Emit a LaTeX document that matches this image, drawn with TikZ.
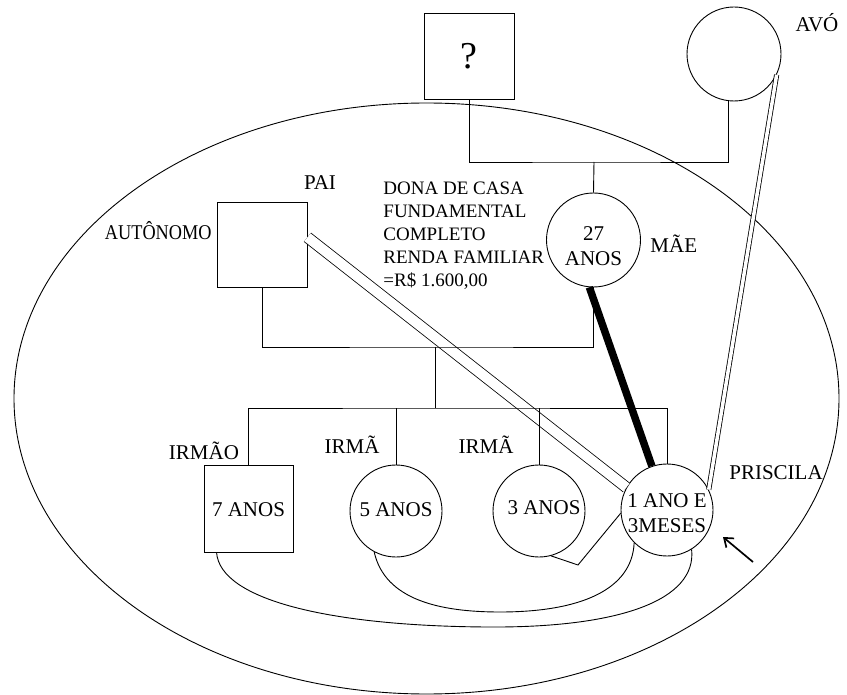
\documentclass[tikz,border=0pt]{standalone}
\usepackage{fontspec}
\setmainfont{Liberation Serif}
\usetikzlibrary{arrows.meta,calc}

\begin{document}
\begin{tikzpicture}[x=1pt,y=-1pt,line width=0.9pt,
  lbl/.style={font=\fontsize{21}{25}\selectfont, inner sep=0pt, anchor=base},
  txt/.style={font=\fontsize{21}{25}\selectfont, inner sep=0pt, align=center},
  info/.style={font=\fontsize{19}{23}\selectfont, inner sep=0pt, align=left},
  male/.style={draw, rectangle, minimum width=90pt, minimum height=86pt, inner sep=0pt},
  female/.style={draw, circle, minimum size=94pt, inner sep=0pt},
  kid/.style={draw, circle, minimum size=92pt, inner sep=0pt},
  tie/.style={double, double distance=10pt, line width=0.8pt},
  closetie/.style={double, double distance=3.5pt, line width=0.8pt},
  strong/.style={line width=7.5pt},
  pointer/.style={line width=1.7pt, -{Straight Barb[length=8pt,width=12pt]}}]

\useasboundingbox (0,0) rectangle (847,695);

% household boundary
\draw (426.5,398.5) ellipse [x radius=412.5pt, y radius=295.5pt];

% family members
\node[male, font=\fontsize{38}{40}\selectfont] (q) at (469,56.5) {?};
\node[female] (avo) at (734,54) {};
\node[male, minimum height=85pt] (pai) at (262,244.5) {};
\node[female] (mae) at (593.5,240) {};
\node[male, minimum width=89pt, minimum height=87pt] (irmao) at (248.5,508.5) {};
\node[kid] (irma5) at (396,511) {};
\node[kid] (irma3) at (539,511) {};
\node[kid] (pris) at (667,510) {};

% texts inside the symbols
\node[txt] (mae-t) at ($(mae)+(0,6.5)$) {27\\ANOS};
\node[txt] (irmao-t) at ($(irmao)+(0,1.5)$) {7 ANOS};
\node[txt] (irma5-t) at ($(irma5)+(0,-1)$) {5 ANOS};
\node[txt] (irma3-t) at ($(irma3)+(5,-3)$) {3 ANOS};
\node[txt] (pris-t) at ($(pris)+(0,3.5)$) {1 ANO E\\3MESES};

% labels
\node[lbl] (avo-l) at (817,32) {AVÓ};
\node[lbl] (pai-l) at (320,190) {PAI};
\node[lbl, anchor=base east] (aut-l) at (212,240) {\scalebox{0.87}[1]{AUTÔNOMO}};
\node[lbl, anchor=base west] (mae-l) at (650,253) {MÃE};
\node[lbl] (pris-l) at (776,479) {PRISCILA};
\node[lbl] (irmao-l) at (204,459) {IRMÃO};
\node[lbl] (irma5-l) at (352,453) {IRMÃ};
\node[lbl] (irma3-l) at (486,453) {IRMÃ};
\node[info, anchor=north west] (info) at (383,181)
  {DONA DE CASA\\FUNDAMENTAL\\COMPLETO\\RENDA FAMILIAR\\=R\$ 1.600,00};

% close relationships
\draw[tie] (pai.9) -- (pris.151);
\draw[closetie] (avo.-26) -- (pris.26);

% genealogy lines
\coordinate (gp) at (594,162);
\coordinate (pm) at (435,347);
\coordinate (sib) at (435,408);
\draw (q.south) |- (gp) -| (avo.263);
\draw (gp) -- (mae.north);
\draw (pai.south) |- (pm) -| (mae.south);
\draw (pm) -- (sib);
\draw (irmao.north) |- (sib) -| (pris.north);
\draw (irma5.north) -- (irma5.north |- sib);
\draw (irma3.north) -- (irma3.north |- sib);

% very strong bond
\draw[strong] (mae.265) -- (pris.109);

% links among the children
\draw (irmao.234) .. controls (220,600) and (330,626) .. (487,627)
  .. controls (620,628) and (697,600) .. (pris.302);
\draw (irma5.242) .. controls (385,600) and (440,612) .. (500,612)
  .. controls (580,612) and (632,590) .. (pris.225);
\coordinate (vtx) at (578,565);
\draw (irma3.285) -- (vtx) -- (pris.184);

% index person
\coordinate (ptail) at (753,562);
\coordinate (phead) at (723,537);
\draw[pointer] (ptail) -- (phead);

\end{tikzpicture}
\end{document}
